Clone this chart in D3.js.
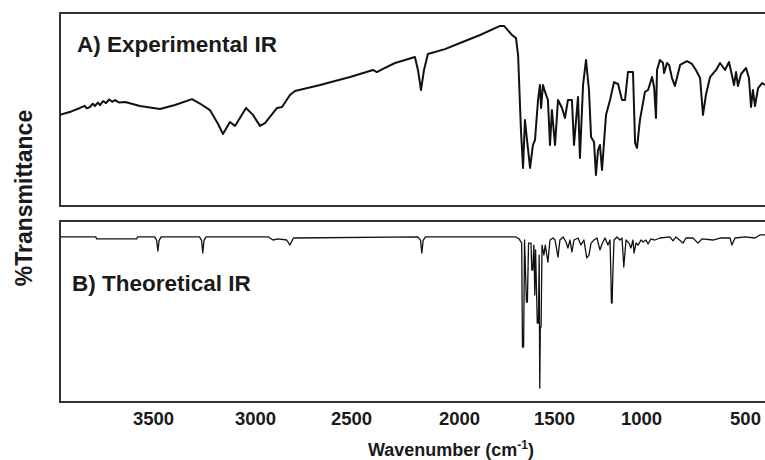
<!DOCTYPE html>
<html>
<head>
<meta charset="utf-8">
<script src="https://cdn.jsdelivr.net/npm/d3@7"></script>
<style>
  body { margin: 0; background: #fff; }
  text { font-family: "Liberation Sans", Arial, sans-serif; font-weight: bold; fill: #1a1a1a; }
</style>
</head>
<body>
<div id="chart"></div>
<script>
// x ticks (cm-1) and where the printed labels sit
const xTicks = [3500, 3000, 2500, 2000, 1500, 1000, 500];
const xTickPos = [153, 255, 351, 459, 554, 641, 745];

// A) experimental spectrum: [wavenumber, %T]
const experimental = [
  [3956, 47.2], [3900, 49.0], [3858, 50.8], [3835, 51.9], [3825, 50.6], [3809, 51.3],
  [3795, 53.0], [3785, 51.8], [3770, 53.6], [3760, 52.2], [3745, 54.4], [3730, 53.3],
  [3715, 55.2], [3700, 54.0], [3686, 54.9], [3665, 53.6], [3637, 53.9], [3564, 51.8],
  [3466, 50.3], [3392, 52.3], [3309, 55.4], [3270, 53.1], [3221, 49.7], [3181, 42.5],
  [3157, 37.3], [3123, 43.5], [3098, 41.5], [3044, 50.8], [3010, 47.2], [2974, 41.5],
  [2948, 43.0], [2885, 50.8], [2859, 51.3], [2818, 57.5], [2792, 59.6], [2661, 62.7],
  [2505, 66.8], [2398, 70.5], [2380, 69.4], [2352, 71.0], [2296, 74.1], [2204, 77.2],
  [2190, 70.5], [2176, 60.1], [2162, 70.5], [2144, 78.8], [2065, 81.3], [1968, 85.5],
  [1889, 88.6], [1784, 93.3], [1763, 93.3], [1721, 88.6], [1700, 87.0], [1689, 78.2],
  [1674, 39.4], [1663, 19.7], [1653, 44.6], [1642, 34.2], [1626, 19.7], [1611, 31.6],
  [1600, 34.2], [1584, 54.9], [1574, 62.7], [1568, 50.8], [1558, 62.7], [1547, 59.1],
  [1532, 54.9], [1521, 31.6], [1511, 49.7], [1494, 31.6], [1477, 54.9], [1454, 50.8],
  [1437, 45.6], [1420, 54.9], [1397, 54.9], [1385, 31.6], [1362, 56.5], [1351, 24.9],
  [1333, 62.7], [1316, 75.6], [1299, 60.1], [1287, 35.8], [1270, 33.2], [1259, 16.1],
  [1247, 29.0], [1236, 31.6], [1224, 18.7], [1201, 47.2], [1178, 54.9], [1155, 64.2],
  [1132, 63.2], [1109, 54.9], [1092, 54.9], [1075, 69.4], [1046, 69.4], [1034, 32.6],
  [1023, 30.1], [1006, 44.6], [981, 59.1], [966, 60.1], [947, 66.8], [937, 61.7],
  [928, 45.6], [923, 70.5], [909, 75.6], [894, 74.1], [889, 68.9], [875, 74.1],
  [865, 73.1], [851, 66.3], [837, 62.2], [812, 73.1], [779, 75.1], [755, 73.6],
  [736, 70.5], [716, 66.3], [702, 47.2], [688, 57.5], [668, 66.8], [639, 70.5],
  [620, 74.1], [596, 70.5], [577, 74.6], [563, 67.9], [553, 62.7], [543, 69.4],
  [534, 62.2], [519, 68.4], [495, 71.5], [481, 66.3], [471, 51.3], [462, 60.1],
  [452, 51.8], [437, 61.1], [418, 63.7], [404, 62.7]
];

// B) theoretical spectrum: [wavenumber, %T]
const theoretical = [
  [3956, 91.2], [3780, 91.2], [3776, 90.1], [3580, 90.1], [3576, 91.2],
  [3492, 91.2], [3482, 89.3], [3476, 83.4], [3470, 89.3], [3460, 91.2],
  [3272, 91.2], [3262, 89.3], [3256, 82.3], [3250, 89.3], [3240, 91.2],
  [2930, 91.2], [2906, 89.5], [2880, 90.1], [2835, 89.5], [2818, 86.7], [2800, 90.6],
  [2190, 91.2], [2178, 89.3], [2172, 82.3], [2166, 89.3], [2155, 91.2],
  [1700, 91.2], [1684, 90.1], [1670, 87.8], [1666, 30.4], [1660, 30.4], [1655, 89.5],
  [1645, 55.2], [1640, 55.2], [1634, 87.8], [1621, 87.8], [1617, 72.9], [1612, 72.9],
  [1606, 86.7], [1601, 59.1], [1597, 84.0], [1588, 43.6], [1582, 43.6], [1578, 81.2],
  [1575, 7.7], [1572, 41.4], [1568, 41.4], [1563, 86.7], [1553, 81.2], [1546, 86.7],
  [1532, 77.3], [1521, 89.5], [1505, 90.6], [1494, 89.5], [1477, 80.1], [1466, 89.5],
  [1448, 91.2], [1431, 88.4], [1420, 85.1], [1408, 89.5], [1397, 82.9], [1385, 89.5],
  [1362, 90.6], [1345, 86.7], [1328, 89.5], [1312, 79.6], [1299, 81.2], [1287, 87.8],
  [1270, 89.5], [1253, 90.6], [1236, 84.0], [1224, 87.3], [1207, 90.6], [1190, 86.7],
  [1178, 89.5], [1173, 70.2], [1170, 54.7], [1166, 54.7], [1162, 70.2], [1155, 89.5],
  [1138, 91.2], [1121, 89.5], [1109, 90.6], [1099, 74.6], [1086, 89.5], [1069, 87.8],
  [1058, 85.1], [1046, 89.5], [1040, 82.3], [1029, 87.8], [1017, 86.7], [1000, 89.5],
  [990, 88.4], [976, 89.5], [966, 87.3], [952, 90.1], [933, 89.5], [909, 90.6],
  [861, 91.2], [846, 89.0], [832, 91.2], [798, 87.8], [784, 90.6], [750, 90.6],
  [726, 87.8], [707, 90.1], [654, 89.5], [620, 90.6], [572, 90.6], [563, 86.7],
  [548, 90.6], [500, 91.2], [452, 90.6], [428, 92.3], [404, 92.3]
];

const width = 765, height = 460;
const panelLeft = 60, panelRight = 772;
const panelA = { top: 13, bottom: 206 };
const panelB = { top: 221, bottom: 402 };

const x = d3.scaleLinear().domain(xTicks).range(xTickPos);
const yA = d3.scaleLinear().domain([0, 100]).range([panelA.bottom, panelA.top]);
const yB = d3.scaleLinear().domain([0, 100]).range([panelB.bottom, panelB.top]);

const svg = d3.select("#chart").append("svg")
  .attr("width", width)
  .attr("height", height);

const defs = svg.append("defs");
[["clipA", panelA], ["clipB", panelB]].forEach(([id, p]) => {
  defs.append("clipPath").attr("id", id)
    .append("rect")
    .attr("x", panelLeft).attr("y", p.top)
    .attr("width", panelRight - panelLeft).attr("height", p.bottom - p.top);
});

// panel frames
[panelA, panelB].forEach(p => {
  svg.append("rect")
    .attr("x", panelLeft).attr("y", p.top)
    .attr("width", panelRight - panelLeft).attr("height", p.bottom - p.top)
    .attr("fill", "none")
    .attr("stroke", "#333")
    .attr("stroke-width", 2);
});

let lineA = d3.line().x(d => x(d[0])).y(d => yA(d[1]));
let lineB = d3.line().x(d => x(d[0])).y(d => yB(d[1]));

svg.append("path")
  .datum(experimental)
  .attr("clip-path", "url(#clipA)")
  .attr("d", lineA)
  .attr("fill", "none")
  .attr("stroke", "#111")
  .attr("stroke-width", 2)
  .attr("stroke-linejoin", "round");

svg.append("path")
  .datum(theoretical)
  .attr("clip-path", "url(#clipB)")
  .attr("d", lineB)
  .attr("fill", "none")
  .attr("stroke", "#111")
  .attr("stroke-width", 1.3)
  .attr("stroke-linejoin", "round");

// panel labels
svg.append("text").attr("x", 77).attr("y", 52)
  .style("font-size", "22.5px").text("A) Experimental IR");
svg.append("text").attr("x", 72).attr("y", 291)
  .style("font-size", "22.5px").text("B) Theoretical IR");

// x axis labels only, no ticks or domain line
let xAxis = d3.axisBottom(x).tickValues(xTicks).tickFormat(d3.format("d")).tickSize(0).tickPadding(0);
let gx = svg.append("g")
  .attr("transform", "translate(0," + 425 + ")")
  .call(xAxis);
gx.select(".domain").remove();
gx.selectAll("text")
  .attr("dy", 0)
  .attr("fill", "#1a1a1a")
  .style("font-size", "18.5px")
  .style("font-family", "'Liberation Sans', Arial, sans-serif")
  .style("font-weight", "bold");

// axis titles
let title = svg.append("text")
  .attr("x", 451).attr("y", 456)
  .attr("text-anchor", "middle")
  .style("font-size", "18px");
title.append("tspan").text("Wavenumber (cm");
title.append("tspan").attr("dy", -7).style("font-size", "12px").text("-1");
title.append("tspan").attr("dy", 7).text(")");

svg.append("text")
  .attr("transform", "translate(32,198) rotate(-90)")
  .attr("text-anchor", "middle")
  .style("font-size", "23px")
  .text("%Transmittance");
</script>
</body>
</html>
